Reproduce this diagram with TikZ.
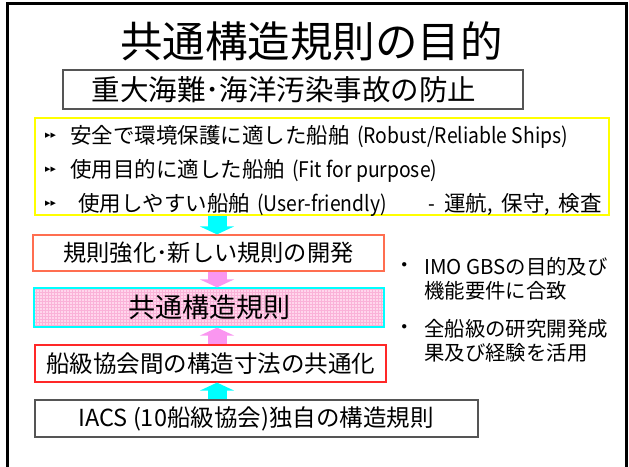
\documentclass[tikz,border=0pt]{standalone}
\usepackage{fontspec}
\setmainfont{Noto Sans CJK JP}
\newfontfamily\latn[FakeStretch=0.9]{Noto Sans CJK JP}
\newfontfamily\symf{DejaVu Sans}
\usetikzlibrary{arrows.meta,patterns}
\definecolor{boxgray}{RGB}{85,85,85}
\definecolor{yel}{RGB}{255,255,0}
\definecolor{salmonb}{RGB}{255,110,80}
\definecolor{redb}{RGB}{255,40,40}
\definecolor{cyanb}{RGB}{0,255,255}
\definecolor{pinkarrow}{RGB}{250,150,240}
\definecolor{pinkfill}{RGB}{255,214,236}
\definecolor{pinkgrid}{RGB}{250,178,216}
\tikzset{
  box/.style={rectangle, inner sep=0pt, line width=1.2pt},
  fs42/.style={font=\fontsize{42.5}{46}\selectfont},
  fs28/.style={font=\fontsize{28.5}{31}\selectfont},
  fs27/.style={font=\fontsize{27}{30}\selectfont},
  fs23/.style={font=\fontsize{23.2}{27}\selectfont},
  fs22/.style={font=\fontsize{21.5}{26}\selectfont},
  fs24/.style={font=\fontsize{23.5}{27}\selectfont},
  fs20/.style={font=\fontsize{20.4}{24.5}\selectfont},
  ytext/.style={anchor=base west, inner sep=0pt, fs22},
  mk/.style={inner sep=0pt, font=\symf\fontsize{7}{7}\selectfont},
  cyanarrow/.style={draw=cyanb, line width=19pt, -{Triangle[width=34pt,length=8pt,fill=cyanb]}},
  pinkarr/.style={draw=pinkarrow, line width=19pt, -{Triangle[width=34pt,length=8pt,fill=pinkarrow]}},
}
\begin{document}
\begin{tikzpicture}[x=1pt,y=-1pt]
\useasboundingbox (0,0) rectangle (629,466);
\fill[white] (0,0) rectangle (629,466);
% frame
\draw[line width=3pt] (7,470) -- (7,3.5) -- (626,3.5) -- (626,470);
% title
\node[fs42] (title) at (311.5,41) {共通構造規則の目的};
% box 2
\node[box, draw=boxgray, minimum width=460pt, minimum height=39pt] (goal) at (293,89.5) {};
\node[fs28, inner sep=0pt] (goalt) at (284,90) {重大海難･海洋汚染事故の防止};
% yellow box
\node[box, draw=yel, minimum width=574pt, minimum height=97pt] (yb) at (322,166.5) {};
\node[mk] (m1) at (50.5,136) {▶▶};
\node[mk] (m2) at (50.5,170) {▶▶};
\node[mk] (m3) at (50.5,204) {▶▶};
\node[ytext] (l1a) at (70,143.5) {安全で環境保護に適した船舶};
\node[ytext] (l1b) at (357,143.5) {\latn (Robust/Reliable Ships)};
\node[ytext] (l2a) at (70,177.5) {使用目的に適した船舶};
\node[ytext] (l2b) at (292,177.5) {\latn (Fit for purpose)};
\node[ytext] (l3a) at (78,211.5) {使用しやすい船舶};
\node[ytext] (l3b) at (257,211.5) {\latn (User-friendly)};
\node[ytext] (l3c) at (428,211.5) {\latn -};
\node[ytext] (l3d) at (444,211.5) {運航{\latn,}\hspace{9pt}保守{\latn,}\hspace{9pt}検査};
% boxes
\node[box, draw=salmonb, minimum width=351pt, minimum height=36pt, fs23] (b1) at (208.5,253) {規則強化･新しい規則の開発};
\node[box, draw=cyanb, preaction={fill=pinkfill}, pattern=grid, pattern color=pinkgrid, minimum width=350pt, minimum height=39pt] (csr) at (209,307.5) {};
\node[fs27] (csrt) at (209,307.5) {共通構造規則};
\node[box, draw=redb, minimum width=351pt, minimum height=37pt, fs24] (harm) at (210.5,363.5) {船級協会間の構造寸法の共通化};
\node[box, draw=boxgray, minimum width=443pt, minimum height=37pt] (iacs) at (256.5,418.5) {};
\node[fs24, inner sep=0pt] (iacst) at (256,419) {IACS (10船級協会)独自の構造規則};
% arrows
\coordinate (ax) at (217,0);
\draw[cyanarrow] (ax |- yb.south) -- (ax |- b1.north);
\draw[pinkarr] (ax |- b1.south) -- (ax |- csr.north);
\draw[pinkarr] (ax |- harm.north) -- (ax |- csr.south);
\draw[cyanarrow] (ax |- iacs.north) -- (ax |- harm.south);
% right notes
\node[fs20, inner sep=0pt] (bu1) at (405,268) {・};
\node[fs20, anchor=north west, align=left, inner sep=0pt] (n1) at (424,257) {IMO GBSの目的及び\\機能要件に合致};
\node[fs20, inner sep=0pt] (bu2) at (405,330) {・};
\node[fs20, anchor=north west, align=left, inner sep=0pt] (n2) at (424,319) {全船級の研究開発成\\果及び経験を活用};
\end{tikzpicture}
\end{document}
